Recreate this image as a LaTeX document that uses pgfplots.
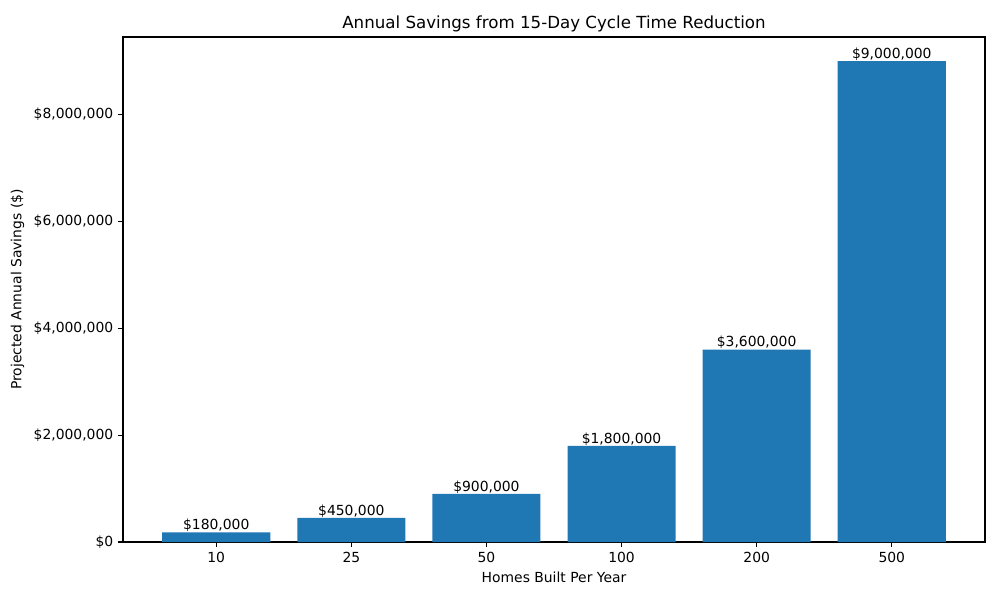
\documentclass[border=0pt]{standalone}
\usepackage{fontspec}
\setmainfont{DejaVu Sans}
\usepackage{pgfplots}
\pgfplotsset{compat=1.18}
\definecolor{barblue}{HTML}{1F77B4}

\begin{document}
\begin{tikzpicture}[font=\fontsize{10bp}{12bp}\selectfont]
\begin{axis}[
    name=ax,
    scale only axis,
    width=620.64bp,
    height=363.6bp,
    ybar,
    bar width=0.8,
    xmin=-0.69, xmax=5.69,
    ymin=0, ymax=9450000,
    xtick={0,1,2,3,4,5},
    xticklabels={10,25,50,100,200,500},
    ytick={0,2000000,4000000,6000000,8000000},
    yticklabels={{\$0},{\$2,000,000},{\$4,000,000},{\$6,000,000},{\$8,000,000}},
    scaled y ticks=false,
    /pgf/number format/assume math mode=true,
    tick align=outside,
    xtick pos=bottom, ytick pos=left,
    major tick length=3.5bp,
    every tick/.style={black, line width=0.8bp},
    axis line style={line width=0.8bp},
    xlabel={Homes Built Per Year},
    ylabel={Projected Annual Savings (\$)},
    title={Annual Savings from 15-Day Cycle Time Reduction},
    title style={font=\fontsize{12bp}{14bp}\selectfont, yshift=-6bp},
    nodes near coords={\$\pgfmathprintnumber[fixed,precision=0,1000 sep={,}]{\pgfplotspointmeta}},
    every node near coord/.append style={anchor=south, inner sep=0pt, yshift=0.3bp, black},
    clip=false,
]
% savings per builder size
\addplot[fill=barblue, draw=none] coordinates {
    (0, 180000)
    (1, 450000)
    (2, 900000)
    (3, 1800000)
    (4, 3600000)
    (5, 9000000)
};
\end{axis}
\path (ax.south west) ++(-88.56bp,-41.76bp) rectangle ++(720bp,432bp);
\end{tikzpicture}
\end{document}
